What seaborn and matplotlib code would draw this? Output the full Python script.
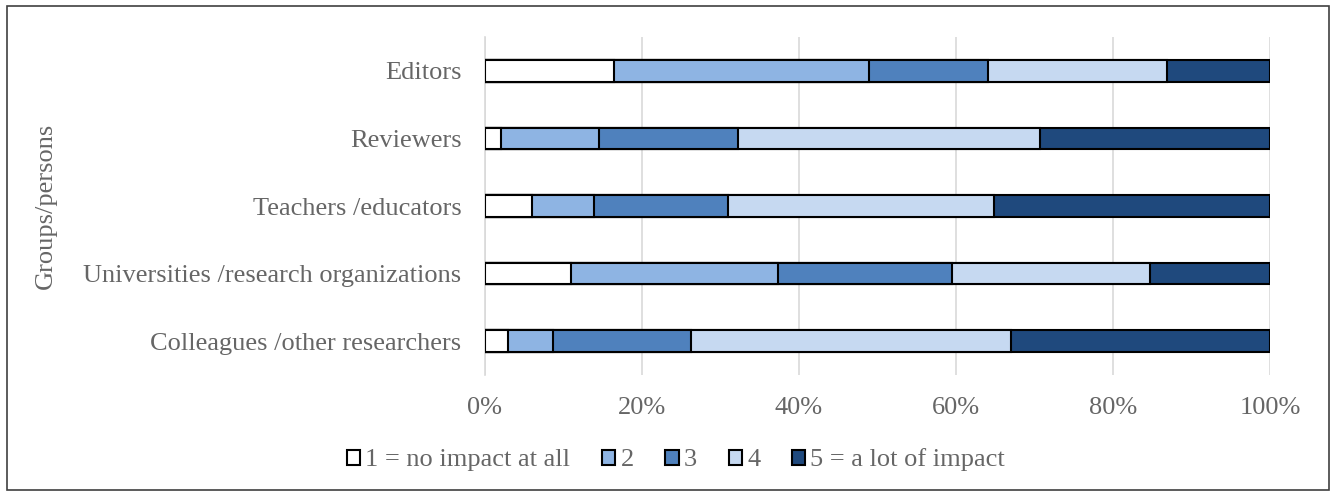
import numpy as np
import pandas as pd
import matplotlib
matplotlib.use("Agg")
import matplotlib.pyplot as plt
from matplotlib.patches import Patch, Rectangle
import seaborn as sns

groups = ["Editors", "Reviewers", "Teachers /educators",
          "Universities /research organizations", "Colleagues /other researchers"]
levels = ["1 = no impact at all", "2", "3", "4", "5 = a lot of impact"]

# share of answers (%) per level, one list per level, in the order of groups
level1 = [16.4, 2.0, 6.0, 11.0, 2.9]
level2 = [32.5, 12.5, 7.9, 26.3, 5.7]
level3 = [15.2, 17.7, 17.1, 22.2, 17.6]
level4 = [22.8, 38.5, 33.9, 25.2, 40.8]
level5 = [13.1, 29.3, 35.1, 15.3, 33.0]

colors = ["#FFFFFF", "#8EB4E3", "#4F81BD", "#C6D9F1", "#1F497D"]
text_color = "#666666"

sns.set_theme(style="white")
plt.rcParams["font.family"] = ["Liberation Serif", "DejaVu Serif"]

shares = np.array([level1, level2, level3, level4, level5], dtype=float)
shares = shares / shares.sum(axis=0) * 100.0
cum = np.cumsum(shares, axis=0)

fig = plt.figure(figsize=(13.36, 4.94), dpi=100)
ax = fig.add_axes([485 / 1336, 1 - 375 / 494, 785 / 1336, 338 / 494])

# stacked bars: draw cumulative totals from the largest down
for i in range(len(levels) - 1, -1, -1):
    df = pd.DataFrame({"group": groups, "value": cum[i]})
    sns.barplot(data=df, x="value", y="group", orient="h", ax=ax,
                color=colors[i], width=0.32, edgecolor="black",
                linewidth=1.5, saturation=1, zorder=3)

ax.set_xlim(0, 100)
ax.set_ylim(4.5, -0.5)
ax.set_xticks(np.arange(0, 101, 20))
ax.set_xticklabels([f"{t}%" for t in range(0, 101, 20)])
ax.xaxis.grid(True, color="#D9D9D9", linewidth=1.2, zorder=0)
ax.yaxis.grid(False)
for side in ["top", "right", "bottom"]:
    ax.spines[side].set_visible(False)
ax.spines["left"].set_color("#D9D9D9")
ax.spines["left"].set_linewidth(1.2)
ax.tick_params(axis="both", length=0, labelsize=19, colors=text_color)
ax.tick_params(axis="y", pad=17)
ax.tick_params(axis="x", pad=16)
ax.set_xlabel("")
ax.set_ylabel("Groups/persons", fontsize=19, color=text_color)
ax.yaxis.set_label_coords(-0.545, 0.5)

handles = [Patch(facecolor=c, edgecolor="black", linewidth=1.5) for c in colors]
fig.legend(handles, levels, loc="center", bbox_to_anchor=(0.506, 1 - 460 / 494),
           ncol=5, frameon=False, fontsize=19, labelcolor=text_color,
           handlelength=0.5, handleheight=0.5, handletextpad=0.2,
           columnspacing=1.2)

fig.patches.append(Rectangle((7 / 1336, 4 / 494), 1322 / 1336, 484 / 494,
                             transform=fig.transFigure, fill=False,
                             edgecolor="#404040", linewidth=1.2))

fig.savefig("out.png", dpi=100, facecolor="white")
